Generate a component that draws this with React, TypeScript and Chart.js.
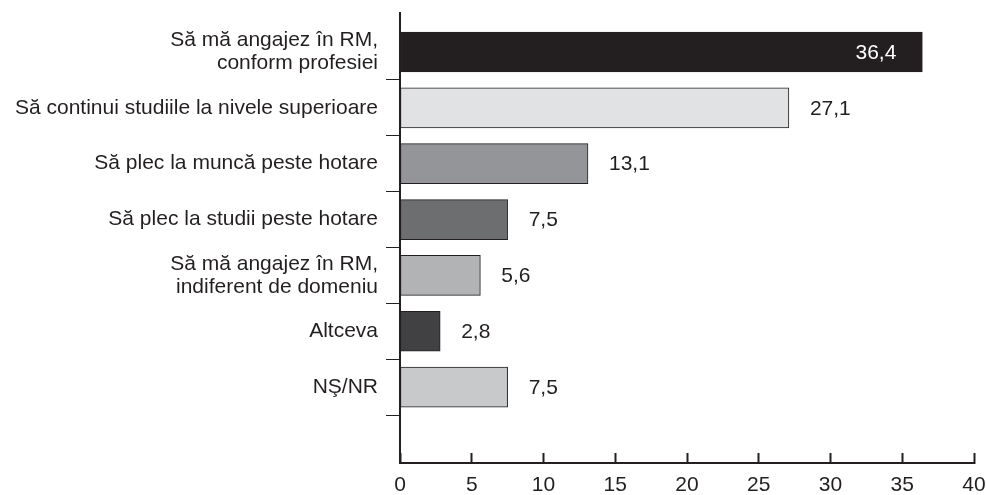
import React, { useEffect, useRef } from 'react';
import { Chart, registerables } from 'chart.js';

Chart.register(...registerables);

const categories = [
  'Să mă angajez în RM,\nconform profesiei',
  'Să continui studiile la nivele superioare',
  'Să plec la muncă peste hotare',
  'Să plec la studii peste hotare',
  'Să mă angajez în RM,\nindiferent de domeniu',
  'Altceva',
  'NŞ/NR',
];
const values = [36.4, 27.1, 13.1, 7.5, 5.6, 2.8, 7.5];
const barColors = ['#231f20', '#e1e2e3', '#939598', '#6d6e70', '#b1b3b5', '#414042', '#c8c9ca'];
const xMin = 0;
const xMax = 40;
const xStep = 5;

const FONT = '"Liberation Sans", Arial, sans-serif';
const INK = '#231f20';

// category positions on the index axis: label at integer, tick mark between categories
const yTickValues: number[] = [];
categories.forEach((_, i) => {
  yTickValues.push(i);
  yTickValues.push(i + 0.5);
});

const valueLabels = {
  id: 'valueLabels',
  afterDatasetsDraw(chart: any) {
    const ctx = chart.ctx;
    const meta = chart.getDatasetMeta(0);
    const maxV = Math.max(...values);
    ctx.save();
    ctx.font = `21px ${FONT}`;
    ctx.textBaseline = 'middle';
    meta.data.forEach((bar: any, i: number) => {
      const v = values[i];
      const text = v.toFixed(1).replace('.', ',');
      if (v === maxV) {
        ctx.fillStyle = '#ffffff';
        ctx.textAlign = 'right';
        ctx.fillText(text, bar.x - 26, bar.y + 1);
      } else {
        ctx.fillStyle = INK;
        ctx.textAlign = 'left';
        ctx.fillText(text, bar.x + 21, bar.y + 1);
      }
    });
    ctx.restore();
  },
};

export default function App() {
  const ref = useRef<HTMLCanvasElement | null>(null);

  useEffect(() => {
    document.body.style.margin = '0';
    const canvas = ref.current;
    if (!canvas) return;
    const chart = new Chart(canvas, {
      type: 'bar',
      data: {
        datasets: [
          {
            data: values.map((v, i) => ({ x: v, y: i })) as any,
            backgroundColor: barColors,
            borderColor: INK,
            borderWidth: 1,
            borderSkipped: false,
            barThickness: 40,
          },
        ],
      },
      options: {
        indexAxis: 'y',
        responsive: false,
        animation: false,
        devicePixelRatio: 1,
        layout: { padding: { top: 13, right: 13, bottom: 0, left: 0 } },
        plugins: { legend: { display: false }, tooltip: { enabled: false } },
        scales: {
          x: {
            type: 'linear',
            position: 'bottom',
            min: xMin,
            max: xMax,
            offset: false,
            afterFit: (s: any) => {
              s.height = 32;
              s.paddingLeft = 0;
              s.paddingRight = 0;
            },
            ticks: {
              stepSize: xStep,
              padding: 20,
              color: INK,
              autoSkip: false,
              maxRotation: 0,
              font: { family: FONT, size: 21, lineHeight: 1.2 },
            },
            grid: {
              offset: false,
              drawOnChartArea: false,
              drawTicks: true,
              tickLength: -10,
              tickWidth: 2,
              tickColor: INK,
            },
            border: { display: true, color: INK, width: 2 },
          },
          y: {
            type: 'linear',
            reverse: true,
            offset: false,
            min: -0.6983,
            max: 7.359,
            afterBuildTicks: (s: any) => {
              s.ticks = yTickValues.map((v) => ({ value: v }));
            },
            afterFit: (s: any) => {
              s.width = 400;
              s.paddingTop = 0;
              s.paddingBottom = 0;
            },
            ticks: {
              autoSkip: false,
              padding: 8,
              color: INK,
              font: { family: FONT, size: 21, lineHeight: 1.1 },
              callback: (v: any) => (Number.isInteger(v) ? categories[v].split('\n') : ''),
            },
            grid: {
              offset: false,
              drawOnChartArea: false,
              drawTicks: true,
              tickLength: 14,
              tickWidth: 1,
              tickColor: (c: any) =>
                c.tick && Number.isInteger(c.tick.value) ? 'rgba(0,0,0,0)' : INK,
            },
            border: { display: true, color: INK, width: 2 },
          },
        },
      },
      plugins: [valueLabels],
    });
    return () => chart.destroy();
  }, []);

  return (
    <div style={{ width: 987, height: 495 }}>
      <canvas ref={ref} width={987} height={495} style={{ display: 'block' }} />
    </div>
  );
}
